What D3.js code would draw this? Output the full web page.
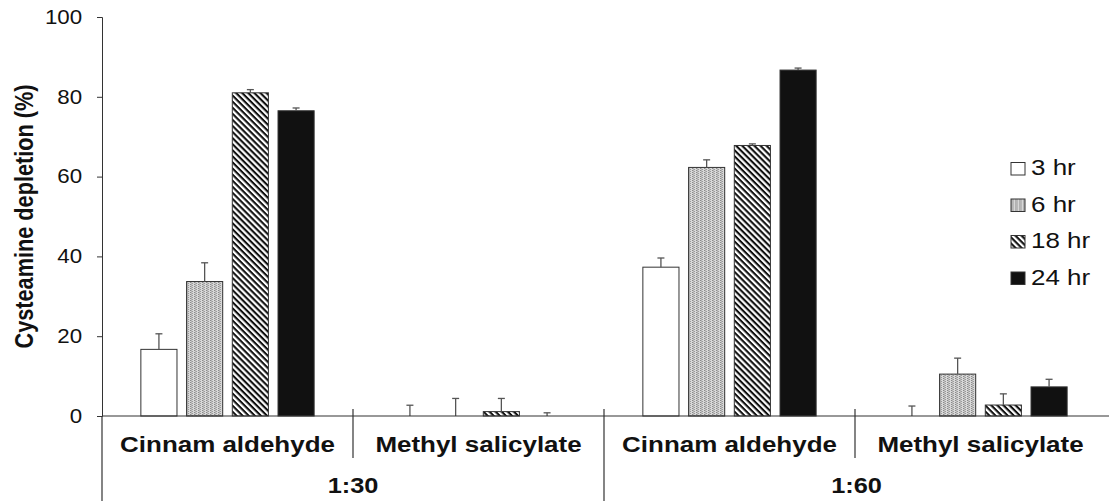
<!DOCTYPE html>
<html>
<head>
<meta charset="utf-8">
<script src="https://cdn.jsdelivr.net/npm/d3@7"></script>
<style>
  body { margin: 0; background: #fff; }
  text { font-family: "Liberation Sans", Arial, sans-serif; fill: #111; }
</style>
</head>
<body>
<div id="chart"></div>
<script>
const ratios = ['1:30', '1:60'];
const compounds = ['Cinnam aldehyde', 'Methyl salicylate'];
const times = ['3 hr', '6 hr', '18 hr', '24 hr'];
// values per group (ratio|compound), one per time
const values = [
  [16.7, 33.7, 81.0, 76.5],
  [0, 0, 1.1, 0],
  [37.3, 62.3, 67.8, 86.7],
  [0, 10.5, 2.75, 7.3]
];
const errors = [
  [3.9, 4.7, 0.8, 0.7],
  [2.7, 4.4, 3.3, 0.8],
  [2.3, 1.9, 0.4, 0.5],
  [2.5, 4.0, 2.8, 1.9]
];
const yTicks = [0, 20, 40, 60, 80, 100];

const W = 1109, H = 501;
const X0 = 102, X1 = 1106;
const Y0 = 416, Y1 = 17;
const SX = 1.18; // the original figure is stretched sideways

const svg = d3.select('#chart').append('svg')
  .attr('width', W).attr('height', H);

// text drawn with the sideways stretch
function label(x, y, str, size, bold, anchor) {
  return svg.append('text')
    .attr('transform', `translate(${x},${y}) scale(${SX},1)`)
    .attr('text-anchor', anchor || 'middle')
    .attr('font-size', size)
    .attr('font-weight', bold ? 'bold' : 'normal')
    .text(str);
}

const defs = svg.append('defs');
// 6 hr: fine gray stipple
const p6 = defs.append('pattern').attr('id', 'p6')
  .attr('patternUnits', 'userSpaceOnUse').attr('width', 4).attr('height', 2);
p6.append('rect').attr('width', 4).attr('height', 2).attr('fill', '#d8d8d8');
p6.append('rect').attr('x', 0).attr('width', 1).attr('height', 1).attr('fill', '#8a8a8a');
p6.append('rect').attr('x', 2).attr('y', 1).attr('width', 1).attr('height', 1).attr('fill', '#9a9a9a');
p6.append('rect').attr('x', 1).attr('y', 0).attr('width', 1).attr('height', 2).attr('fill', '#b5b5b5');
// 18 hr: diagonal stripes, top-left to bottom-right
const p18 = defs.append('pattern').attr('id', 'p18')
  .attr('patternUnits', 'userSpaceOnUse').attr('width', 4.3).attr('height', 4.3)
  .attr('patternTransform', 'rotate(45)');
p18.append('rect').attr('width', 4.3).attr('height', 4.3).attr('fill', '#fff');
p18.append('rect').attr('width', 4.3).attr('height', 2.1).attr('fill', '#111');

const fills = ['#fff', 'url(#p6)', 'url(#p18)', '#111'];

const groups = [];
ratios.forEach(r => compounds.forEach(c => groups.push(r + '|' + c)));

const x = d3.scaleBand().domain(groups).range([X0, X1]);
const xi = d3.scaleBand().domain(times).range([0, x.bandwidth()])
  .paddingInner(0.21).paddingOuter(0.85);
const y = d3.scaleLinear().domain([0, 100]).range([Y0, Y1]);

// y axis
const yAxis = svg.append('g')
  .attr('transform', `translate(${X0},0)`)
  .call(d3.axisLeft(y).tickValues(yTicks).tickSize(5).tickPadding(12.4).tickSizeOuter(5));
yAxis.select('.domain').attr('stroke', '#333');
yAxis.selectAll('.tick line').attr('stroke', '#333');
yAxis.selectAll('.tick text')
  .attr('font-size', 19.5).attr('fill', '#111')
  .attr('transform', `scale(${SX * 0.97},1)`)
  .style('font-family', '"Liberation Sans", Arial, sans-serif');

svg.append('text')
  .attr('transform', `translate(33,216.5) rotate(-90) scale(1,1.16)`)
  .attr('text-anchor', 'middle')
  .attr('font-size', 21.7).attr('font-weight', 'bold')
  .text('Cysteamine depletion (%)');

// bars
groups.forEach((g, gi) => {
  const gg = svg.append('g').attr('transform', `translate(${x(g)},0)`);
  gg.selectAll('rect.bar').data(times).join('rect')
    .attr('class', 'bar')
    .attr('x', t => xi(t))
    .attr('width', xi.bandwidth())
    .attr('y', (t, i) => y(values[gi][i]))
    .attr('height', (t, i) => Y0 - y(values[gi][i]))
    .attr('fill', (t, i) => fills[i])
    .attr('stroke', '#333').attr('stroke-width', 1);

  // error bars
  gg.selectAll('line.err').data(times).join('line')
    .attr('class', 'err')
    .attr('x1', t => xi(t) + xi.bandwidth() / 2)
    .attr('x2', t => xi(t) + xi.bandwidth() / 2)
    .attr('y1', (t, i) => y(values[gi][i]))
    .attr('y2', (t, i) => y(values[gi][i] + errors[gi][i]))
    .attr('stroke', '#555').attr('stroke-width', 1.3);
  gg.selectAll('line.cap').data(times).join('line')
    .attr('class', 'cap')
    .attr('x1', t => xi(t) + xi.bandwidth() / 2 - 3.5)
    .attr('x2', t => xi(t) + xi.bandwidth() / 2 + 3.5)
    .attr('y1', (t, i) => y(values[gi][i] + errors[gi][i]))
    .attr('y2', (t, i) => y(values[gi][i] + errors[gi][i]))
    .attr('stroke', '#555').attr('stroke-width', 1.3);

  label(x(g) + x.bandwidth() / 2, 452, g.split('|')[1], 22, true);
});

// x axis line and separators
svg.append('line')
  .attr('x1', X0).attr('x2', W).attr('y1', Y0).attr('y2', Y0)
  .attr('stroke', '#333').attr('stroke-width', 1.2);
svg.append('line')
  .attr('x1', X0).attr('x2', X0).attr('y1', Y0).attr('y2', H)
  .attr('stroke', '#333').attr('stroke-width', 1.2);
groups.slice(1).forEach((g, i) => {
  const outer = (i + 1) % compounds.length === 0;
  svg.append('line')
    .attr('x1', x(g)).attr('x2', x(g))
    .attr('y1', Y0 - 7).attr('y2', outer ? H : 458)
    .attr('stroke', '#333').attr('stroke-width', 1.2);
});

ratios.forEach((r, ri) => {
  const a = x(r + '|' + compounds[0]);
  const b = ri === ratios.length - 1 ? W : x(ratios[ri + 1] + '|' + compounds[0]);
  label((a + b) / 2, 493, r, 21.5, true);
});

// legend
const leg = svg.append('g').attr('transform', 'translate(1011,175)');
times.forEach((t, i) => {
  const row = leg.append('g').attr('transform', `translate(0,${i * 36.5})`);
  row.append('rect').attr('y', -12.5).attr('width', 14).attr('height', 12.5)
    .attr('fill', fills[i]).attr('stroke', '#333').attr('stroke-width', 1);
  row.append('text').attr('transform', `translate(20,0) scale(${SX},1)`)
    .attr('font-size', 22).text(t);
});
</script>
</body>
</html>
